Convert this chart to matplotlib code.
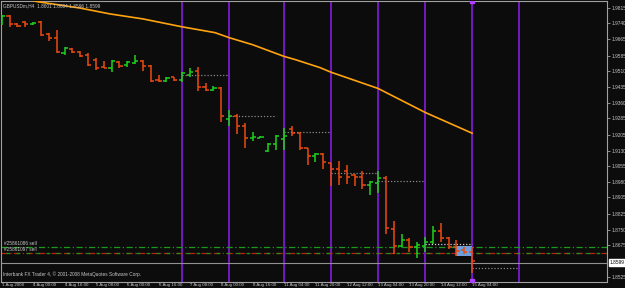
import matplotlib
matplotlib.use("Agg")
import matplotlib.pyplot as plt

plt.rcParams["font.family"] = ["Liberation Sans", "DejaVu Sans"]

# ================== data (GBPUSDm H4) ==================
bar_open = [1.9739, 1.9777, 1.9739, 1.9748, 1.9739, 1.9748, 1.9691, 1.9672, 1.9600, 1.9619,
            1.9605, 1.9590, 1.9567, 1.9533, 1.9528, 1.9557, 1.9543, 1.9552, 1.9562, 1.9538,
            1.9471, 1.9466, 1.9481, 1.9471, 1.9495, 1.9514, 1.9433, 1.9423, 1.9428, 1.9280,
            1.9294, 1.9246, 1.9189, 1.9192, 1.9127, 1.9160, 1.9184, 1.9232, 1.9213, 1.9141,
            1.9103, 1.9113, 1.9070, 1.9041, 1.9031, 1.9012, 1.9003, 1.8965, 1.8974, 1.8998,
            1.8754, 1.8673, 1.8702, 1.8668, 1.8673, 1.8692, 1.8745, 1.8711, 1.8668, 1.8654,
            1.8645]
bar_high = [1.9782, 1.9780, 1.9743, 1.9753, 1.9748, 1.9750, 1.9696, 1.9710, 1.9629, 1.9624,
            1.9607, 1.9600, 1.9576, 1.9562, 1.9567, 1.9559, 1.9562, 1.9590, 1.9564, 1.9540,
            1.9495, 1.9481, 1.9485, 1.9509, 1.9528, 1.9533, 1.9452, 1.9438, 1.9433, 1.9323,
            1.9304, 1.9261, 1.9218, 1.9199, 1.9165, 1.9203, 1.9237, 1.9246, 1.9218, 1.9143,
            1.9117, 1.9117, 1.9072, 1.9079, 1.9060, 1.9017, 1.9031, 1.8984, 1.9031, 1.9008,
            1.8793, 1.8730, 1.8711, 1.8692, 1.8716, 1.8769, 1.8783, 1.8713, 1.8702, 1.8668,
            1.8668]
bar_low = [1.9734, 1.9724, 1.9724, 1.9724, 1.9734, 1.9681, 1.9657, 1.9600, 1.9590, 1.9600,
           1.9581, 1.9538, 1.9519, 1.9524, 1.9509, 1.9524, 1.9533, 1.9547, 1.9514, 1.9461,
           1.9461, 1.9461, 1.9466, 1.9461, 1.9481, 1.9414, 1.9414, 1.9414, 1.9266, 1.9246,
           1.9208, 1.9141, 1.9175, 1.9189, 1.9122, 1.9132, 1.9132, 1.9199, 1.9132, 1.9060,
           1.9074, 1.9041, 1.8960, 1.8965, 1.8969, 1.8960, 1.8945, 1.8917, 1.8926, 1.8730,
           1.8635, 1.8668, 1.8645, 1.8616, 1.8645, 1.8683, 1.8692, 1.8659, 1.8625, 1.8635,
           1.8540]
bar_close = [1.9777, 1.9739, 1.9729, 1.9739, 1.9743, 1.9686, 1.9672, 1.9602, 1.9624, 1.9605,
             1.9586, 1.9543, 1.9528, 1.9528, 1.9562, 1.9538, 1.9557, 1.9562, 1.9538, 1.9466,
             1.9466, 1.9476, 1.9471, 1.9500, 1.9509, 1.9433, 1.9423, 1.9428, 1.9294, 1.9294,
             1.9246, 1.9189, 1.9194, 1.9196, 1.9160, 1.9199, 1.9199, 1.9213, 1.9141, 1.9103,
             1.9113, 1.9074, 1.9041, 1.9003, 1.9003, 1.9003, 1.8965, 1.8979, 1.8998, 1.8759,
             1.8673, 1.8702, 1.8668, 1.8678, 1.8692, 1.8745, 1.8711, 1.8668, 1.8649, 1.8645,
             1.8599]

# moving average, read at some bars
ma_idx = [4, 4.5, 10, 13.8, 18, 23, 27.2, 29, 32, 36, 37.4, 40.6, 42, 48, 54, 60]
ma_val = [1.9850, 1.9845, 1.9814, 1.9786, 1.9762, 1.9724, 1.9696, 1.9672, 1.9638, 1.9582,
          1.9567, 1.9528, 1.9506, 1.9428, 1.9313, 1.9213]

# day separators and levels
sep_idx = [23, 29, 36, 42, 48, 54, 60, 66]
level_start = [23, 29, 36, 42, 48, 54, 60]
level_val = [1.9495, 1.9294, 1.9219, 1.9022, 1.8984, 1.8683, 1.8564]

order_levels = [1.8668, 1.8640]
order_labels = ["#25861086 sell", "#25861097 sell"]
bid = 1.8599
bid_line = 1.8592

y_ticks = [1.9815, 1.9740, 1.9665, 1.9585, 1.9510, 1.9435, 1.9360, 1.9285, 1.9205, 1.9130,
           1.9055, 1.8980, 1.8905, 1.8825, 1.8750, 1.8675, 1.8525]
x_tick_idx = list(range(0, 61, 4))
x_tick_labels = ["1 Aug 2008", "4 Aug 00:00", "4 Aug 16:00", "5 Aug 08:00", "6 Aug 00:00",
                 "6 Aug 16:00", "7 Aug 08:00", "8 Aug 00:00", "8 Aug 16:00", "11 Aug 04:00",
                 "11 Aug 20:00", "12 Aug 12:00", "13 Aug 04:00", "13 Aug 20:00",
                 "14 Aug 12:00", "15 Aug 04:00"]

# ================== canvas ==================
W, H = 625, 288
BG = "#0c0c0c"
UP = "#1ed21e"
DN = "#ec4a10"
SEP = "#7418c4"
TXT = "#c8c8c8"
FS = 3.4

fig = plt.figure(figsize=(W / 100, H / 100), dpi=100, facecolor=BG)
ax = fig.add_axes([1 / W, (H - 281.5) / H, 606 / W, 280.5 / H], facecolor=BG)

# separators
for i in sep_idx:
    ax.axvline(i, color=SEP, lw=1.4, zorder=1)

# dotted levels
for s, v in zip(level_start, level_val):
    c = "#d0d0d0" if s == 54 else "#8a8a8a"
    ax.hlines(v, s, s + 6, colors=c, linestyles=(0, (1, 1.5)), lw=0.9, zorder=2)

# order lines
ax.axhline(order_levels[0], color="#1a9a1a", lw=0.9, ls=(0, (5, 2, 1, 2)), zorder=2)
ax.axhline(order_levels[1], color="#c02010", lw=0.9, ls=(0, (5, 2, 1, 2)), zorder=2)
ax.axhline(order_levels[1], color="#1a9a1a", lw=0.9, ls=(4, (3, 5)), zorder=2)
for v, t in zip(order_levels, order_labels):
    ax.text(0.3, v + 0.0005, t, color=TXT, fontsize=FS, va="bottom", ha="left", zorder=5)

# bid line
ax.axhline(bid_line, color="#909090", lw=0.8, zorder=2)

# blue box near the end
ax.fill_between([58, 60], 1.8625, 1.8673, color="#6d9fdc", zorder=2, lw=0)

# moving average
ax.plot(ma_idx, ma_val, color="#ffa30f", lw=1.2, zorder=3)

# OHLC bars
n = len(bar_close)
for i in range(n):
    c = UP if bar_close[i] >= bar_open[i] else DN
    ax.vlines(i, bar_low[i], bar_high[i], colors=c, lw=1.1, zorder=4)
    ax.hlines(bar_open[i], i - 0.4, i, colors=c, lw=1.1, zorder=4)
    ax.hlines(bar_close[i], i, i + 0.4, colors=c, lw=1.1, zorder=4)

# markers on the last separator
ax.plot([60, 60], [1.9846, 1.8503], ls="none", marker="s", ms=2.5, color="#b040ff", zorder=5)

ax.set_xlim(-0.1, 77.2)
ax.set_ylim(1.8501, 1.9848)

ax.yaxis.tick_right()
ax.set_yticks(y_ticks)
ax.set_yticklabels([f"{v:.4f}" for v in y_ticks])
ax.set_xticks(x_tick_idx)
ax.set_xticklabels(x_tick_labels, ha="left")
ax.tick_params(axis="both", colors="#a0a0a0", labelcolor=TXT, labelsize=FS,
               width=0.6)
ax.tick_params(axis="y", length=2, pad=1)
ax.tick_params(axis="x", length=1, pad=0.2, labelsize=3.2)
for sp in ax.spines.values():
    sp.set_color("#a0a0a0")
    sp.set_linewidth(0.8)

# price box on the right axis
ax.text(1.004, (bid_line - 1.8501) / (1.9848 - 1.8501), f"{bid:.4f}", transform=ax.transAxes,
        fontsize=FS, color="black", va="center", ha="left",
        bbox=dict(boxstyle="square,pad=0.15", fc="white", ec="white"), clip_on=False)

fig.text(3 / W, 1 - 6 / H, "GBPUSDm,H4  1.8601 1.8604 1.8596 1.8599", color=TXT,
         fontsize=FS, va="center", ha="left")
fig.text(3 / W, 1 - 274 / H, "Interbank FX Trader 4, \u00a9 2001-2008 MetaQuotes Software Corp.",
         color=TXT, fontsize=FS, va="center", ha="left")

fig.savefig("out.png", dpi=100, facecolor=BG)
